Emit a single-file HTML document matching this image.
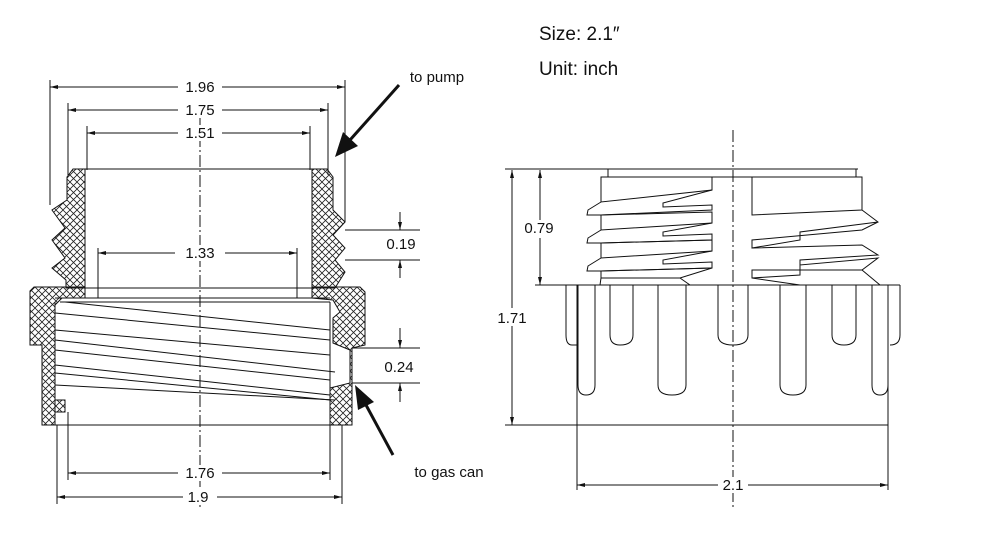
<!DOCTYPE html>
<html><head><meta charset="utf-8"><style>
html,body{margin:0;padding:0;background:#fff;width:981px;height:544px;overflow:hidden}
svg{display:block}
text{font-family:"Liberation Sans",sans-serif;fill:#111}
</style></head><body>
<svg width="981" height="544" viewBox="0 0 981 544" xmlns="http://www.w3.org/2000/svg">
<defs>
<pattern id="h" width="7" height="7" patternUnits="userSpaceOnUse">
<path d="M0 0L7 7M7 0L0 7" stroke="#222" stroke-width="0.8"/>
</pattern>
<marker id="a" markerWidth="8" markerHeight="6" refX="8" refY="3" orient="auto-start-reverse" markerUnits="userSpaceOnUse">
<path d="M0 1L8 3L0 5z" fill="#111"/>
</marker>
</defs>
<g stroke="#111" fill="none" stroke-width="1">
<!-- LEFT VIEW -->
<!-- centerline -->
<line x1="200" y1="115" x2="200" y2="510" stroke-dasharray="12,3,2,3"/>
<!-- dimension lines top -->
<line x1="50" y1="87" x2="345" y2="87" marker-start="url(#a)" marker-end="url(#a)"/>
<line x1="68" y1="110" x2="328" y2="110" marker-start="url(#a)" marker-end="url(#a)"/>
<line x1="87" y1="133" x2="310" y2="133" marker-start="url(#a)" marker-end="url(#a)"/>
<line x1="50" y1="80" x2="50" y2="205"/><line x1="345" y1="80" x2="345" y2="222"/>
<line x1="68" y1="103" x2="68" y2="175"/><line x1="328" y1="103" x2="328" y2="175"/>
<line x1="87" y1="126" x2="87" y2="170"/><line x1="310" y1="126" x2="310" y2="170"/>
<!-- 1.33 -->
<line x1="98" y1="253" x2="297" y2="253" marker-start="url(#a)" marker-end="url(#a)"/>
<line x1="98" y1="248" x2="98" y2="298"/><line x1="297" y1="248" x2="297" y2="298"/>
<!-- neck hatch -->
<path fill="url(#h)" d="M73 169L85 169L85 288L66 288L66 280L52 268L65 258L52 240L65 228L52 210L67 200L67 177Z"/>
<path fill="url(#h)" d="M312 169L327 169L333 177L333 210L345 222L333 235L345 248L335 260L345 272L335 288L312 288Z"/>
<line x1="85" y1="169" x2="312" y2="169"/>
<line x1="85" y1="288" x2="312" y2="288"/>
<!-- flange/body hatch -->
<path fill="url(#h)" d="M30 291L34 287L85 287L85 298L62 298L55 305L55 400L65 400L65 412L55 412L55 425L42 425L42 345L30 345Z"/>
<path fill="url(#h)" d="M312 287L360 287L365 292L365 345L352 348L352 425L330 425L330 388L350 383L350 350L333 343L333 318L340 312L333 300L312 298Z"/>
<line x1="55" y1="298" x2="330" y2="298"/>
<line x1="60" y1="302" x2="330" y2="302"/>
<line x1="55" y1="425" x2="330" y2="425"/>
<!-- threads -->
<path d="M65 302L330 330"/><path d="M55 313L330 340"/>
<path d="M55 330L330 355"/><path d="M55 340L335 372"/>
<path d="M55 350L330 380"/><path d="M55 365L330 395"/>
<path d="M55 373L330 400"/><path d="M55 385L335 400"/>
<line x1="55" y1="302" x2="55" y2="425"/><line x1="330" y1="302" x2="330" y2="425"/>
<!-- 0.19 -->
<line x1="345" y1="230" x2="420" y2="230"/><line x1="345" y1="260" x2="420" y2="260"/>
<line x1="400" y1="212" x2="400" y2="230" marker-end="url(#a)"/><line x1="400" y1="278" x2="400" y2="260" marker-end="url(#a)"/>
<!-- 0.24 -->
<line x1="352" y1="348" x2="420" y2="348"/><line x1="352" y1="383" x2="420" y2="383"/>
<line x1="400" y1="328" x2="400" y2="348" marker-end="url(#a)"/><line x1="400" y1="402" x2="400" y2="383" marker-end="url(#a)"/>
<!-- bottom dims -->
<line x1="68" y1="412" x2="68" y2="480"/><line x1="330" y1="425" x2="330" y2="480"/>
<line x1="57" y1="425" x2="57" y2="504"/><line x1="342" y1="425" x2="342" y2="504"/>
<line x1="68" y1="473" x2="330" y2="473" marker-start="url(#a)" marker-end="url(#a)"/>
<line x1="57" y1="497" x2="342" y2="497" marker-start="url(#a)" marker-end="url(#a)"/>
<!-- arrows -->
<line x1="399" y1="85" x2="350" y2="140" stroke-width="3"/>
<path d="M335 157L343 132L358 146Z" fill="#111" stroke="none"/>
<line x1="393" y1="455" x2="366" y2="405" stroke-width="3"/>
<path d="M355 385L374 402L358 410Z" fill="#111" stroke="none"/>

<!-- RIGHT VIEW -->
<line x1="733" y1="130" x2="733" y2="510" stroke-dasharray="12,3,2,3"/>
<line x1="505" y1="169" x2="858" y2="169"/>
<rect x="608" y="169" width="248" height="8"/>
<line x1="535" y1="285" x2="900" y2="285"/>
<!-- neck threads left -->
<path d="M601 177L712 177L712 190L601 202Z"/>
<path d="M601 202L588 210L587 215L601 215L712 210L712 205L663 207L663 203L712 190"/>
<path d="M601 215L712 212L712 223L601 230Z"/>
<path d="M601 230L588 238L587 243L601 243L712 240L712 234L663 236L663 232L712 223"/>
<path d="M601 243L712 240L712 251L601 258Z"/>
<path d="M601 258L588 266L587 271L601 271L712 268L712 262L663 264L663 260L712 251"/>
<path d="M601 271L712 268L680 278L601 278Z"/><path d="M601 278L600 285M680 278L690 285"/>
<!-- neck threads right -->
<path d="M752 177L862 177L862 210L752 215Z"/>
<path d="M862 210L878 222L862 230L752 240L752 248L800 240L800 232L878 222"/>
<path d="M752 248L862 245L878 255L800 260L800 265L878 258L862 270L752 270L752 278L800 275L800 265"/>
<path d="M752 278L800 285M862 270L880 285"/>
<!-- skirt -->
<line x1="577" y1="285" x2="577" y2="425"/><line x1="888" y1="285" x2="888" y2="425"/>
<line x1="505" y1="425" x2="888" y2="425"/>
<!-- ribs short -->
<path d="M566 285L566 335Q566 345 572 345L578 345"/>
<path d="M610 285L610 335Q610 345 620 345Q633 345 633 335L633 285"/>
<path d="M718 285L718 335Q718 345 733 345Q748 345 748 335L748 285"/>
<path d="M832 285L832 335Q832 345 844 345Q856 345 856 335L856 285"/>
<path d="M900 285L900 335Q900 345 890 345"/>
<!-- ribs long -->
<path d="M578 285L578 385Q578 395 586 395Q595 395 595 385L595 285"/>
<path d="M658 285L658 385Q658 395 672 395Q686 395 686 385L686 285"/>
<path d="M780 285L780 385Q780 395 793 395Q806 395 806 385L806 285"/>
<path d="M872 285L872 385Q872 395 880 395Q888 395 888 385"/>
<!-- dims -->
<line x1="512" y1="170" x2="512" y2="425" marker-start="url(#a)" marker-end="url(#a)"/>
<line x1="540" y1="170" x2="540" y2="285" marker-start="url(#a)" marker-end="url(#a)"/>
<line x1="577" y1="425" x2="577" y2="490"/><line x1="888" y1="425" x2="888" y2="490"/>
<line x1="577" y1="485" x2="888" y2="485" marker-start="url(#a)" marker-end="url(#a)"/>
</g>
<g font-size="15" text-anchor="middle">
<rect x="178" y="79" width="44" height="16" fill="#fff"/><text x="200" y="92">1.96</text>
<rect x="178" y="102" width="44" height="16" fill="#fff"/><text x="200" y="115">1.75</text>
<rect x="178" y="125" width="44" height="16" fill="#fff"/><text x="200" y="138">1.51</text>
<rect x="175" y="245" width="50" height="16" fill="#fff"/><text x="200" y="258">1.33</text>
<text x="401" y="249">0.19</text>
<text x="399" y="372">0.24</text>
<rect x="178" y="465" width="44" height="16" fill="#fff"/><text x="200" y="478">1.76</text>
<rect x="183" y="489" width="34" height="16" fill="#fff"/><text x="198" y="502">1.9</text>
<text x="437" y="82">to pump</text>
<text x="449" y="477">to gas can</text>
<rect x="495" y="308" width="34" height="18" fill="#fff"/><text x="512" y="323">1.71</text>
<rect x="520" y="220" width="40" height="18" fill="#fff"/><text x="539" y="233">0.79</text>
<rect x="718" y="477" width="30" height="16" fill="#fff"/><text x="733" y="490">2.1</text>
</g>
<text x="539" y="40" font-size="19">Size: 2.1″</text>
<text x="539" y="75" font-size="19">Unit: inch</text>
</svg>
</body></html>
